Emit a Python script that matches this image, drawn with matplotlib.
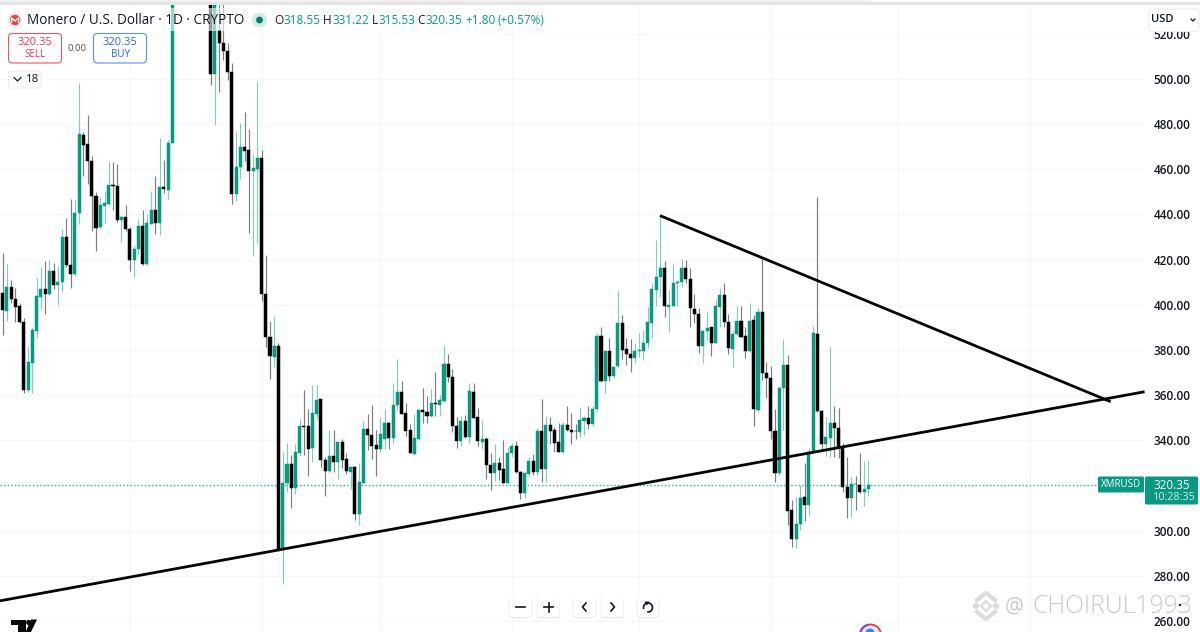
import matplotlib
matplotlib.use("Agg")
import matplotlib.pyplot as plt
from matplotlib.patches import FancyBboxPatch, Rectangle, Circle, Polygon, Arc

plt.rcParams['font.family'] = ['Open Sans', 'DejaVu Sans']

# OHLC, one row of four per candle (41-48 are above the visible range, estimated)
opens = [405.1,397.4,408.1,402.7,399.6,392.6,362.3,374.4,388.6,403.6,407.2,404.8,414.9,408.9,410.1,430.1,417.7,413.8,440.5,475.4,
471.2,463.9,448.2,434.3,443.9,444.7,453.1,452.8,437.7,438.8,433.7,419.9,424.6,434.8,418.2,435.8,441.9,436.3,452.0,451.0,
471.7,575,590,600,610,595,580,570,575,552,502.2,521.7,516.1,512.4,503.3,448.9,461.0,469.8,468.6,459.3,
460.3,464.9,404.8,385.9,377.1,381.8,291.7,320.9,329.5,318.7,334.5,346.3,346.2,336.4,351.8,358.1,331.1,326.5,333.2,330.4,
339.2,331.6,326.0,328.3,307.4,321.2,345.1,342.5,337.8,336.3,340.7,347.5,341.0,355.6,361.5,351.9,344.5,334.1,340.6,353.3,
352.5,350.6,356.7,355.5,357.5,373.8,368.2,346.3,339.7,348.4,341.3,361.5,350.3,339.4,340.7,329.0,325.7,329.9,327.1,320.9,
334.2,337.3,326.1,316.5,325.2,331.0,326.0,344.1,327.4,346.6,344.5,339.1,334.8,346.9,344.6,344.3,343.7,348.7,349.7,347.2,
353.7,386.2,366.4,379.4,368.5,372.9,392.1,380.3,378.2,376.4,379.5,379.5,382.9,392.1,406.5,412.2,416.1,399.2,399.6,409.8,
410.2,416.3,411.6,398.3,395.8,381.8,388.4,390.0,383.2,399.2,404.3,392.5,380.6,386.9,392.8,386.0,379.7,393.1,353.4,396.9,
369.9,367.4,344.1,325.4,363.0,373.5,309.1,296.1,302.9,314.7,311.3,335.0,386.9,353.0,338.2,340.9,347.7,345.6,336.9,319.2,
314.3,320.8,320.2,317.1,318.55]
highs = [422.8,418.1,411.0,407.3,400.7,394.0,381.8,390.3,411.8,416.9,419.6,419.9,418.4,417.2,433.6,438.6,446.7,446.4,498.1,476.7,
483.9,465.9,449.8,447.9,450.4,463.3,463.1,462.4,439.4,444.2,434.6,426.1,437.9,441.9,440.1,450.4,456.9,473.9,464.1,473.0,
590,598,610,617,620,605,590,585,585,560,565,545,540,516.1,507.0,476.4,480.4,485.3,477.7,466.7,
499.1,468.6,422.1,392.9,395.1,383.0,335.0,339.0,333.5,338.3,349.3,362.3,353.7,364.5,364.5,358.3,332.4,344.5,344.5,339.4,
340.4,334.5,328.6,328.6,329.8,348.5,351.5,355.6,344.5,350.5,353.7,348.2,365.5,376.0,366.4,356.4,347.2,351.6,353.7,363.3,
359.6,362.6,370.1,360.0,382.3,378.1,371.4,350.5,350.7,351.2,365.2,365.2,354.4,349.0,341.3,334.2,338.2,332.4,340.1,337.2,
339.0,339.7,326.4,326.1,332.4,333.8,345.3,358.3,350.9,350.5,345.7,347.5,348.2,355.2,351.9,347.1,354.7,350.8,355.3,355.2,
387.4,390.0,379.7,385.4,372.9,406.1,395.5,385.1,384.7,383.0,387.7,388.8,399.2,409.1,428.7,439.0,419.4,406.6,417.9,411.0,
420.1,419.8,416.1,404.6,398.7,388.8,396.9,390.3,402.1,407.3,409.5,395.9,388.8,399.5,399.5,390.3,400.9,395.5,398.4,421.3,
374.5,373.0,353.7,364.0,384.7,377.6,313.6,315.0,320.2,329.8,336.4,390.6,447.7,353.4,350.5,381.3,355.2,354.2,338.7,332.7,
323.9,324.3,334.2,331.0,331.22]
lows = [386.7,393.0,401.0,392.6,391.8,361.1,361.6,360.8,385.9,398.3,395.8,404.4,406.9,399.8,405.8,416.9,407.6,412.8,435.8,457.1,
453.4,432.9,423.9,433.4,436.1,444.2,442.0,436.8,427.8,432.9,414.9,412.5,422.4,417.7,417.7,435.6,431.5,430.9,449.4,446.9,
471.7,565,575,585,590,570,555,550,548,497.4,479.6,494.4,508.4,499.6,444.7,446.1,455.6,463.9,432.0,421.8,
427.2,401.9,381.2,367.3,372.6,291.0,276.4,317.1,309.9,316.2,333.0,333.5,324.3,330.5,349.3,328.3,315.3,326.1,326.1,322.7,
327.6,325.1,318.3,304.7,302.5,320.9,335.7,331.6,324.3,335.0,336.3,336.0,338.6,353.4,351.6,341.9,334.3,333.8,340.1,347.5,
347.5,350.3,350.7,350.7,357.1,365.7,343.8,336.4,337.5,340.9,338.9,349.7,337.5,336.0,322.7,318.0,322.0,322.4,320.9,320.6,
332.7,325.4,313.8,314.3,324.2,324.6,324.6,321.7,321.7,338.4,335.0,334.6,334.5,344.3,338.2,340.4,341.3,342.3,344.9,346.3,
353.1,365.9,361.1,366.4,367.4,371.9,375.8,373.3,370.1,374.4,377.0,375.6,380.7,385.1,399.5,403.3,394.7,388.1,399.4,399.5,
408.0,409.5,390.3,392.1,378.5,374.4,384.4,377.3,382.9,390.3,390.3,378.1,372.3,386.6,385.6,376.3,379.2,346.3,352.7,366.7,
358.6,340.4,321.7,324.6,344.6,302.5,292.9,292.5,300.3,304.4,306.9,334.7,352.7,335.4,333.0,332.7,332.7,332.0,317.3,305.4,
306.2,309.1,316.5,310.9,315.53]
closes = [397.7,408.1,402.6,399.2,392.4,362.3,374.6,388.7,403.8,407.2,405.0,414.9,408.8,410.1,430.1,417.7,413.8,440.8,475.7,470.9,
463.6,448.2,434.2,444.2,445.0,453.1,452.8,437.6,438.8,433.6,419.9,424.7,434.8,418.2,436.1,441.9,436.1,452.0,451.2,471.8,
575,590,600,610,595,580,570,575,552,502.2,550,516.1,512.4,503.3,448.9,461.0,469.8,468.3,459.1,460.6,
464.9,404.8,385.9,377.4,381.8,291.4,320.9,329.5,318.7,334.7,346.2,346.0,336.3,352.1,357.8,331.1,326.5,333.2,330.2,339.2,
331.3,326.4,328.2,307.4,321.5,345.1,342.3,337.5,336.3,342.6,347.5,341.0,355.6,361.5,351.8,344.3,334.5,341.0,353.4,352.4,
350.6,356.7,355.9,357.8,373.8,368.2,346.3,339.7,348.4,341.3,361.8,350.0,339.7,340.6,329.0,325.7,329.9,326.8,321.2,334.4,
337.3,325.9,316.5,325.5,331.0,326.0,344.1,327.4,346.6,344.3,339.0,334.8,346.9,344.5,343.8,344.0,349.0,349.7,347.1,353.9,
386.3,366.4,379.4,368.3,372.6,392.1,380.0,378.1,376.4,379.7,380.2,382.9,392.2,406.8,412.5,416.1,399.5,399.9,409.8,410.2,
416.3,411.6,398.4,395.8,381.8,388.5,389.7,383.2,399.5,404.3,392.5,380.7,386.9,392.8,385.9,379.7,393.0,353.7,396.9,369.9,
367.4,344.1,325.4,363.3,373.5,308.7,296.1,302.9,314.6,311.3,335.0,387.4,353.0,338.2,341.5,347.8,345.6,336.4,319.2,314.3,
320.8,320.5,317.3,318.6,320.35]

price_ticks = [260, 280, 300, 320, 340, 360, 380, 400, 420, 440, 460, 480, 500, 520]
month_grid = [30, 61, 89, 120, 150, 181, 211, 242]
last_price = 320.35

# trend lines: candle index, price
support_x = [-0.63, 269.1]
support_y = [268.9, 361.5]
resist_x = [154.9, 261.1]
resist_y = [439.5, 357.1]

GREEN = '#089981'

fig = plt.figure(figsize=(12, 6.32), dpi=100)
fig.patch.set_facecolor('white')
ax = fig.add_axes([0, 0, 1145/1200, 1])
ax.set_xlim(-0.629, 269.2)
ax.set_ylim(255.1, 534.98)
for s in ax.spines.values():
    s.set_visible(False)

ax.yaxis.tick_right()
ax.set_yticks(price_ticks)
ax.set_yticklabels(["%.2f" % p for p in price_ticks], fontsize=8.5, color='#131722', fontweight='semibold')
ax.set_xticks(month_grid)
ax.set_xticklabels([])
ax.tick_params(length=0, pad=6)
ax.grid(color='#f5f6f7', linewidth=0.8)
ax.set_axisbelow(True)

# candles
idx = list(range(len(opens)))
colors = [GREEN if c >= o else '#000000' for o, c in zip(opens, closes)]
wick_colors = ['#7fcdbe' if c >= o else '#7d7d7d' for o, c in zip(opens, closes)]
ax.vlines(idx, lows, highs, colors=wick_colors, linewidth=0.85, zorder=2)
ax.bar(idx, [c - o for o, c in zip(opens, closes)], bottom=opens, width=0.72,
       color=colors, edgecolor=colors, linewidth=0.35, zorder=3)

ax.axhline(last_price, xmax=1098/1145, color='#2fb39c', linewidth=1.0, linestyle=(0, (1, 1.6)), zorder=1)

ax.plot(support_x, support_y, color='#050505', linewidth=2.0, zorder=4, solid_capstyle='butt')
ax.plot(resist_x, resist_y, color='#050505', linewidth=2.0, zorder=4, solid_capstyle='butt')

# everything around the chart is placed in pixels on a second axes
ui = fig.add_axes([0, 0, 1, 1])
ui.set_xlim(0, 1200)
ui.set_ylim(632, 0)
ui.axis('off')
ui.patch.set_alpha(0)


def box(x0, y0, x1, y1, fc='white', ec='none', lw=0.8, r=3, z=5, alpha=None):
    p = FancyBboxPatch((x0 + r, y0 + r), x1 - x0 - 2*r, y1 - y0 - 2*r, boxstyle="round,pad=%g,rounding_size=%g" % (r, r),
                       fc=fc, ec=ec, lw=lw, zorder=z, alpha=alpha)
    ui.add_patch(p)


def txt(x, y, s, size, color='#131722', ha='left', weight='normal', z=8):
    return ui.text(x, y, s, fontsize=size, color=color, ha=ha, va='center', fontweight=weight, zorder=z)


# top strip
ui.add_patch(Rectangle((0, 0), 1200, 2, fc='#f2f2f2', ec='none', zorder=6))
ui.add_patch(Rectangle((0, 2), 1200, 3, fc='#e4e4e4', ec='none', zorder=6))
ui.add_patch(Rectangle((871, 0), 329, 2, fc='white', ec='none', zorder=7))

# legend background is see-through
ui.add_patch(Rectangle((0, 8), 545, 23, fc='white', ec='none', alpha=0.6, zorder=5))
ui.add_patch(Circle((15, 20), 7.5, fc='#ececec', ec='none', zorder=6))
ui.add_patch(Circle((15, 20), 5.2, fc='#e8453c', ec='none', zorder=7))
ui.plot([11.5, 11.5, 15, 18.5, 18.5], [22.5, 18, 21, 18, 22.5], color='white', lw=1, zorder=8)
txt(27, 20, "Monero / U.S. Dollar · 1D · CRYPTO", 9.75)
ui.add_patch(Circle((259.5, 20), 7.5, fc='#cfeee8', ec='none', zorder=6))
ui.add_patch(Circle((259.5, 20), 3.4, fc='#0b7b6a', ec='none', zorder=7))
for x, s, c in [(274, "O", '#131722'), (283.5, "318.55", GREEN), (322.7, "H", '#131722'), (332.3, "331.22", GREEN),
                (371.7, "L", '#131722'), (378.3, "315.53", GREEN), (417.7, "C", '#131722'), (425.7, "320.35", GREEN),
                (465, "+1.80", GREEN), (497.7, "(+0.57%)", GREEN)]:
    txt(x, 20, s, 8.45, color=c)

# sell / buy
box(8.5, 33.5, 61.5, 63, ec='#f7525f', r=4)
txt(35, 42.5, "320.35", 8.0, color='#f23645', ha='center', weight='medium')
txt(35, 54.5, "SELL", 7.0, color='#f23645', ha='center')
txt(77.5, 48.5, "0.00", 6.8, color='#50535e', ha='center')
box(93.5, 33.5, 146.5, 63, ec='#5b8ff9', r=4)
txt(120, 42.5, "320.35", 8.0, color='#2962ff', ha='center', weight='medium')
txt(120, 54.5, "BUY", 7.0, color='#2962ff', ha='center')
box(8.5, 71, 41, 88, ec='#eeeeee', r=2)
ui.plot([14, 17.5, 21], [77.5, 81, 77.5], color='#131722', lw=0.9, zorder=8)
txt(26, 79.5, "18", 8.2)

# USD selector
box(1149, 9, 1199, 31.5, ec='#ededed', r=2)
txt(1151, 20, "USD", 8, weight='semibold')
ui.plot([1191, 1193, 1195], [19, 21, 19], color='#131722', lw=0.9, zorder=8)

# price tags
box(1098, 476.5, 1144, 492.5, fc=GREEN, r=1.5)
txt(1121, 484.5, "XMRUSD", 7.0, color='white', ha='center', weight='medium')
box(1145, 476.5, 1198, 504.5, fc=GREEN, r=1.5)
txt(1153, 485.2, "320.35", 8.4, color='white', weight='medium')
txt(1153, 497.5, "10:28:35", 7.8, color='#c8ebe4')

# zoom and scroll buttons
for x0 in [510, 538, 574, 602, 637.5]:
    box(x0 - 0.5, 596.5, x0 + 21.5, 618, fc='#d4d4d4', r=3, z=5, alpha=0.55)
    box(x0, 596, x0 + 21, 617, fc='white', r=3, z=6)
ui.plot([516, 525], [607, 607], color='#131722', lw=1.2, zorder=8)
ui.plot([544, 553], [607, 607], color='#131722', lw=1.2, zorder=8)
ui.plot([548.5, 548.5], [602.5, 611.5], color='#131722', lw=1.2, zorder=8)
ui.plot([586, 582.5, 586], [603, 607, 611], color='#131722', lw=1.2, zorder=8)
ui.plot([611, 614.5, 611], [603, 607, 611], color='#131722', lw=1.2, zorder=8)
ui.add_patch(Arc((648, 607.5), 9, 9, theta1=-200, theta2=100, color='#131722', lw=1.2, zorder=8))
ui.add_patch(Polygon([[644.5, 601.5], [649.5, 601.5], [647, 605.5]], fc='#131722', ec='none', zorder=8))

# tradingview mark, bottom left
ui.add_patch(Polygon([[11, 619.5], [25.5, 619.5], [25.5, 632], [18, 632], [18, 625], [11, 625]], fc='#0a0a0a', ec='none', zorder=8))
ui.add_patch(Circle((28.7, 622.5), 2.6, fc='#0a0a0a', ec='none', zorder=8))
ui.add_patch(Polygon([[31, 619.5], [37, 619.5], [31, 632], [25.5, 632]], fc='#0a0a0a', ec='none', zorder=8))

# little badge cut off by the bottom edge
ui.add_patch(Circle((870.5, 635), 10.5, fc='#dfe8ff', ec='#e0403f', lw=1.3, zorder=8))
ui.add_patch(Arc((870.5, 635), 21, 21, theta1=180, theta2=260, color='#9b3fc0', lw=1.5, zorder=9))
ui.add_patch(Circle((870, 633), 4.5, fc='#3f7fe8', ec='none', zorder=9))

# watermark
wm = '#dcdcdc'
for cx, cy in [(976, 606), (996, 606)]:
    ui.add_patch(Polygon([[cx-4, cy], [cx, cy-4], [cx+4, cy], [cx, cy+4]], fc=wm, ec='none', zorder=9))
ui.add_patch(Polygon([[986, 601], [991, 606], [986, 611], [981, 606]], fc='none', ec=wm, lw=1.6, zorder=9))
ui.plot([977, 986, 995], [600, 593, 600], color=wm, lw=3, zorder=9)
ui.plot([977, 986, 995], [612, 619, 612], color=wm, lw=3, zorder=9)
txt(1005, 606.5, "@", 15, color='#cccccc', z=9)
txt(1033, 606.5, "CHOIRUL1993", 17.8, color='#cbcbcb', weight='light', z=9)
ui.add_patch(Circle((1180, 605), 1.2, fc='#111111', ec='none', zorder=10))

fig.savefig("out.png", dpi=100)
